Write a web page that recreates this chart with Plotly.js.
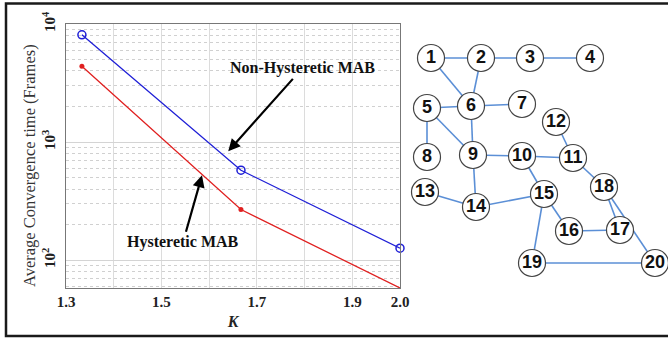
<!DOCTYPE html>
<html>
<head>
<meta charset="utf-8">
<script src="https://cdn.plot.ly/plotly-3.0.1.min.js"></script>
<style>html,body{margin:0;padding:0;background:#fff;}#chart{width:668px;height:338px;}</style>
</head>
<body>
<div id="chart"></div>
<script>
// ---- Chart data ----
const kValues = [4/3, 5/3, 2.0];
const nonHystereticMAB = [8100, 577, 126];
const hystereticMAB = [4390, 268, 58];
const xTickVals = [1.3, 1.5, 1.7, 1.9, 2.0];
const xTickText = ['1.3', '1.5', '1.7', '1.9', '2.0'];
const xMinorVals = [1.4, 1.6, 1.8];
const yTickVals = [100, 1000, 10000];
const yTickText = ['10<sup>2</sup>', '10<sup>3</sup>', '10<sup>4</sup>'];

// ---- Network graph data ----
const nodeLabels = ['1','2','3','4','5','6','7','8','9','10','11','12','13','14','15','16','17','18','19','20'];
const nodeX = [431, 481, 530, 590, 427, 471, 522, 427, 473, 522, 573, 556, 425, 476, 544, 569, 620, 604, 532, 655];
const nodeY = [58, 58, 58, 58, 108, 106, 104, 157, 155, 156, 158, 122, 192, 207, 194, 231, 230, 187, 263, 263];
const edges = [[1,2],[2,3],[3,4],[1,6],[2,6],[5,6],[6,7],[5,8],[5,9],[6,9],[9,10],[10,11],[12,11],[11,18],[10,15],[9,14],[13,14],[14,15],[15,16],[16,17],[17,18],[15,19],[19,20],[18,20]];

const W = 668, H = 338;
const serif = '"Liberation Serif", "DejaVu Serif", serif';

const ex = [], ey = [];
edges.forEach(([a, b]) => {
  ex.push(nodeX[a-1], nodeX[b-1], null);
  ey.push(nodeY[a-1], nodeY[b-1], null);
});

const minorY = [];
for (let d = 10; d <= 10000; d *= 10) for (let m = 2; m <= 9; m++) minorY.push(m * d);

const traces = [
  {x: kValues, y: nonHystereticMAB, mode: 'lines+markers', type: 'scatter',
   line: {color: '#1f1fd6', width: 1.3},
   marker: {symbol: 'circle-open', size: 8, color: '#1f1fd6', line: {width: 1.5}},
   cliponaxis: false, showlegend: false},
  {x: kValues, y: hystereticMAB, mode: 'lines+markers', type: 'scatter',
   line: {color: '#e02020', width: 1.3},
   marker: {symbol: 'circle', size: 5, color: '#e02020'},
   cliponaxis: false, showlegend: false},
  {x: ex, y: ey, mode: 'lines', type: 'scatter', xaxis: 'x2', yaxis: 'y2',
   line: {color: '#5b8fd6', width: 1.6}, hoverinfo: 'skip', showlegend: false},
  {x: nodeX, y: nodeY, text: nodeLabels, mode: 'markers+text', type: 'scatter', xaxis: 'x2', yaxis: 'y2',
   marker: {size: 27, color: '#ffffff', line: {color: '#444', width: 1.2}},
   textfont: {family: '"Liberation Sans", Arial, sans-serif', size: 18, color: '#111', weight: 'bold'},
   textposition: 'middle center', showlegend: false}
];

const layout = {
  width: W, height: H,
  margin: {l: 0, r: 0, t: 0, b: 0},
  paper_bgcolor: '#fff', plot_bgcolor: 'rgba(0,0,0,0)',
  xaxis: {
    domain: [66/W, 400/W], range: [1.3, 2.0],
    tickmode: 'array', tickvals: xTickVals, ticktext: xTickText,
    showgrid: true, gridcolor: '#dcdcdc', gridwidth: 1,
    minor: {tickmode: 'array', tickvals: xMinorVals, showgrid: true, gridcolor: '#dcdcdc', gridwidth: 1, ticks: ''},
    showline: true, linecolor: '#777', linewidth: 1, mirror: true,
    ticks: '', zeroline: false,
    tickfont: {family: serif, size: 15, color: '#222', weight: 'bold'},
    title: {text: '<b><i>K</i></b>', font: {family: serif, size: 16, color: '#222'}, standoff: 6},
    anchor: 'y'
  },
  yaxis: {
    domain: [1 - 288/H, 1 - 24/H], type: 'log', range: [Math.log10(58), 4],
    tickmode: 'array', tickvals: yTickVals, ticktext: yTickText, tickangle: -90,
    ticklabelstandoff: 4,
    showgrid: true, gridcolor: '#d4d4d4', gridwidth: 1,
    minor: {tickmode: 'array', tickvals: minorY, showgrid: true, gridcolor: '#d0d0d0', griddash: 'dot', ticks: ''},
    showline: true, linecolor: '#777', linewidth: 1, mirror: true,
    ticks: '', zeroline: false,
    tickfont: {family: serif, size: 15, color: '#222', weight: 'bold'},
    anchor: 'x'
  },
  xaxis2: {domain: [408/W, 1], range: [408, 668], visible: false, fixedrange: true, anchor: 'y2'},
  yaxis2: {domain: [0, 1], range: [338, 0], visible: false, fixedrange: true, anchor: 'x2'},
  annotations: [
    {x: 29/W, y: 1 - 166/H, xref: 'paper', yref: 'paper', text: 'Average Convergence time (Frames)',
     textangle: -90, showarrow: false, xanchor: 'center', yanchor: 'middle',
     font: {family: serif, size: 16.5, color: '#333'}},
    {x: 1.640, y: 2.921, xref: 'x', yref: 'y', ax: 74, ay: -83, text: '<b>Non-Hysteretic MAB</b>', showarrow: true,
     arrowhead: 2, arrowsize: 1.1, arrowwidth: 2.2, arrowcolor: '#000',
     font: {family: serif, size: 16, color: '#111'}},
    {x: 1.585, y: 2.718, xref: 'x', yref: 'y', ax: -19, ay: 67, text: '<b>Hysteretic MAB</b>', showarrow: true,
     arrowhead: 2, arrowsize: 1.1, arrowwidth: 2.2, arrowcolor: '#000',
     font: {family: serif, size: 16, color: '#111'}}
  ],
  shapes: [
    {type: 'rect', xref: 'paper', yref: 'paper', x0: 6/W, x1: 1.02, y0: 1 - 336/H, y1: 1 - 3.5/H,
     line: {color: '#1a1a1a', width: 2.5}, fillcolor: 'rgba(0,0,0,0)'}
  ]
};

Plotly.newPlot('chart', traces, layout, {staticPlot: true, displayModeBar: false});
</script>
</body>
</html>
